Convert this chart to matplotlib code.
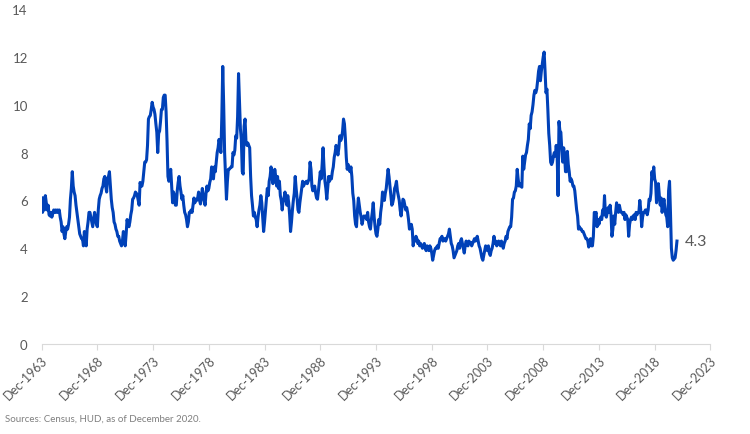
import numpy as np
import matplotlib
matplotlib.use("Agg")
import matplotlib.pyplot as plt

# monthly months' supply of new homes, Dec-1963 .. Dec-2020
supply = [
    6.1,                                                              # 1963 Dec
    5.5, 6.1, 5.6, 6.2, 5.9, 5.6, 5.8, 5.4, 5.35, 5.5, 5.3, 5.45,     # 1964
    5.6, 5.5, 5.6, 5.5, 5.6, 5.5, 5.6, 5.3, 5.1, 4.7, 4.9, 4.6,       # 1965
    4.4, 4.7, 4.9, 4.8, 5.0, 5.3, 6.05, 6.5, 7.2, 6.6, 6.35, 6.2,     # 1966
    5.8, 5.5, 5.2, 4.9, 4.6, 4.5, 4.4, 4.4, 4.1, 4.7, 4.4, 4.1,       # 1967
    4.8, 5.1, 5.5, 5.5, 5.3, 5.1, 4.9, 5.2, 5.5, 5.3, 5.0, 4.9,       # 1968
    5.6, 6.05, 6.2, 6.3, 6.5, 6.6, 6.9, 7.0, 6.6, 6.35, 6.9, 7.0,     # 1969
    7.2, 6.6, 6.05, 5.7, 5.5, 5.1, 5.0, 4.8, 4.7, 4.5, 4.5, 4.3,      # 1970
    4.2, 4.1, 4.3, 4.7, 4.4, 4.1, 4.6, 5.2, 5.0, 4.9, 5.1, 5.4,       # 1971
    5.6, 6.05, 6.1, 6.2, 6.35, 6.3, 6.2, 6.0, 5.8, 6.75, 6.6, 6.6,    # 1972
    6.8, 7.2, 7.6, 7.6, 7.7, 8.3, 9.4, 9.5, 9.55, 9.8, 10.1, 9.9,     # 1973
    9.8, 9.6, 9.2, 8.85, 8.0, 8.8, 8.9, 9.3, 9.8, 9.8, 10.3, 10.4,    # 1974
    10.4, 9.7, 8.5, 7.0, 6.8, 7.1, 7.3, 6.6, 5.9, 6.35, 6.2, 5.8,     # 1975
    5.8, 6.4, 6.75, 7.0, 6.6, 6.35, 6.05, 6.2, 5.8, 5.5, 5.4, 5.2,    # 1976
    4.9, 5.1, 5.5, 5.5, 5.6, 5.5, 5.8, 6.1, 5.9, 6.05, 6.0, 6.1,      # 1977
    6.35, 6.0, 5.85, 6.1, 6.5, 6.2, 6.0, 5.8, 6.3, 6.6, 6.4, 6.5,     # 1978
    6.75, 6.9, 7.4, 7.0, 6.9, 7.4, 7.2, 7.6, 8.0, 8.2, 8.55, 8.3,     # 1979
    8.0, 9.5, 11.6, 10.0, 8.0, 7.0, 6.05, 6.8, 7.3, 7.3, 7.35, 7.4,   # 1980
    7.4, 8.0, 7.9, 8.1, 8.7, 8.6, 9.5, 11.3, 10.2, 9.0, 8.55, 7.2,    # 1981
    7.1, 9.1, 9.4, 8.45, 8.3, 8.4, 8.3, 8.2, 7.0, 6.2, 5.8, 5.35,     # 1982
    5.5, 5.3, 5.2, 4.9, 5.3, 5.6, 5.8, 6.2, 5.9, 5.3, 4.7, 5.1,       # 1983
    5.6, 6.05, 6.5, 6.2, 6.8, 7.0, 7.4, 7.1, 6.7, 6.9, 7.3, 7.0,      # 1984
    6.6, 7.0, 6.5, 6.8, 6.2, 6.0, 5.6, 6.0, 6.1, 6.35, 6.0, 5.8,      # 1985
    6.2, 5.9, 5.4, 4.7, 5.1, 5.6, 6.0, 6.3, 7.0, 6.5, 6.1, 5.6,       # 1986
    5.5, 5.9, 6.2, 6.5, 6.8, 6.6, 6.7, 6.75, 6.8, 6.7, 6.8, 6.9,      # 1987
    7.6, 7.3, 6.6, 6.4, 6.5, 6.6, 6.3, 6.1, 6.05, 6.4, 6.8, 7.2,      # 1988
    6.9, 7.5, 8.2, 7.4, 6.8, 6.5, 6.05, 6.5, 7.0, 6.8, 7.0, 6.9,      # 1989
    7.2, 7.4, 7.8, 8.0, 8.3, 8.1, 7.9, 8.2, 8.7, 8.5, 8.6, 8.9,       # 1990
    9.4, 9.2, 8.6, 7.8, 7.3, 7.5, 7.3, 7.2, 7.4, 7.0, 6.3, 6.0,       # 1991
    5.35, 5.0, 4.9, 5.6, 6.1, 5.8, 5.5, 5.3, 5.0, 5.2, 5.35, 5.3,     # 1992
    5.35, 5.2, 5.5, 5.1, 4.9, 4.8, 5.2, 5.5, 5.9, 5.3, 4.9, 4.6,      # 1993
    4.5, 4.8, 5.2, 5.0, 5.5, 5.8, 6.35, 6.2, 6.0, 6.3, 6.5, 6.9,      # 1994
    7.3, 7.0, 6.6, 6.2, 5.8, 5.9, 6.1, 6.5, 6.6, 6.8, 6.4, 6.2,       # 1995
    6.0, 5.6, 5.35, 5.7, 6.05, 6.0, 5.8, 5.6, 5.7, 5.5, 5.2, 4.8,     # 1996
    4.9, 5.0, 4.8, 4.1, 4.4, 4.3, 4.5, 4.4, 4.2, 4.3, 4.1, 4.2,       # 1997
    4.1, 4.0, 4.1, 4.2, 4.0, 3.9, 4.1, 4.0, 3.9, 4.1, 4.0, 3.8,       # 1998
    3.5, 3.7, 3.9, 4.0, 4.0, 4.1, 4.0, 4.2, 4.4, 4.4, 4.5, 4.3,       # 1999
    4.4, 4.4, 4.3, 4.4, 4.5, 4.6, 4.8, 4.5, 4.2, 4.1, 3.9, 3.6,       # 2000
    3.7, 3.8, 3.9, 4.1, 4.2, 4.0, 4.3, 4.4, 4.2, 4.0, 3.8, 4.1,       # 2001
    4.3, 4.2, 4.1, 4.3, 4.2, 4.25, 4.1, 4.2, 4.3, 4.4, 4.3, 4.4,      # 2002
    4.5, 4.3, 4.1, 4.0, 3.8, 3.6, 3.5, 3.7, 3.9, 4.1, 4.0, 3.9,       # 2003
    4.1, 3.8, 3.7, 3.9, 4.0, 4.2, 4.5, 4.2, 4.3, 4.1, 4.2, 4.3,       # 2004
    4.2, 4.1, 4.3, 4.2, 4.0, 4.2, 4.3, 4.5, 4.4, 4.7, 4.8, 4.9,       # 2005
    4.9, 5.3, 6.05, 6.1, 6.35, 6.4, 6.6, 7.3, 6.9, 6.6, 6.7, 6.6,     # 2006
    6.55, 7.85, 7.3, 7.6, 7.9, 8.0, 8.3, 8.55, 9.2, 9.0, 9.55, 9.7,   # 2007
    10.0, 10.4, 10.6, 10.5, 10.65, 11.0, 11.4, 11.6, 11.0, 11.4, 11.7, 12.0,  # 2008
    12.2, 11.4, 10.5, 10.65, 9.8, 8.8, 8.3, 7.6, 7.5, 7.6, 7.85, 8.0, # 2009
    7.85, 8.3, 7.9, 6.2, 9.3, 8.9, 8.85, 8.1, 7.6, 8.2, 7.9, 7.2,     # 2010
    7.2, 8.05, 7.5, 7.2, 6.8, 6.9, 6.8, 6.6, 6.6, 6.4, 6.0, 5.6,      # 2011
    5.35, 4.8, 4.9, 4.8, 4.8, 4.7, 4.7, 4.6, 4.5, 4.4, 4.4, 4.3,      # 2012
    4.05, 4.3, 4.4, 4.1, 4.1, 4.5, 5.5, 5.4, 5.5, 4.9, 5.2, 5.0,      # 2013
    5.2, 5.3, 5.2, 5.6, 5.4, 6.2, 5.4, 5.3, 5.5, 5.7, 5.5, 5.8,       # 2014
    5.4, 4.5, 4.8, 5.35, 5.0, 5.5, 5.9, 5.6, 5.5, 5.8, 5.6, 5.5,      # 2015
    5.5, 5.4, 5.5, 5.2, 5.4, 5.3, 5.2, 4.5, 5.0, 5.2, 5.3, 5.2,       # 2016
    5.35, 5.4, 5.2, 5.5, 5.4, 5.5, 5.5, 6.0, 5.6, 4.9, 5.3, 5.5,      # 2017
    5.5, 5.6, 5.6, 5.4, 5.6, 6.05, 6.0, 6.3, 7.2, 6.9, 7.4, 6.9,      # 2018
    6.75, 5.9, 6.3, 6.7, 6.2, 5.8, 6.1, 5.5, 5.8, 6.05, 5.7, 5.4,     # 2019
    5.3, 4.9, 6.4, 6.8, 5.5, 4.0, 3.6, 3.5, 3.55, 3.6, 3.9, 4.3,      # 2020
]

tick_years = list(range(1963, 2024, 5))
tick_labels = ["Dec-%d" % y for y in tick_years]
y_ticks = [0, 2, 4, 6, 8, 10, 12, 14]
last_label = "4.3"
source_note = "Sources: Census, HUD, as of December 2020."

plt.rcParams['font.family'] = ['Lato', 'DejaVu Sans']

fig = plt.figure(figsize=(7.5, 4.35), dpi=100)
ax = fig.add_axes([0.0555, 0.207, 0.8917, 0.770])

x = np.arange(len(supply))
ax.plot(x, supply, color="#0041B8", linewidth=2.2, solid_joinstyle="round")

# x axis: one tick every 60 months, starting at Dec-1963
ticks_x = [(y - 1963) * 12 for y in tick_years]
ax.set_xticks(ticks_x)
ax.set_xticklabels(tick_labels, rotation=45, ha="right", va="top",
                   rotation_mode="anchor", fontsize=9, color="#595959")
ax.set_xlim(0, 720)
ax.set_ylim(0, 14)
ax.set_yticks(y_ticks)
ax.set_yticklabels([str(v) for v in y_ticks], fontsize=9.5, color="#595959")

for s in ["top", "right", "left"]:
    ax.spines[s].set_visible(False)
ax.spines["bottom"].set_color("#d9d9d9")
ax.tick_params(axis="x", length=4, color="#d9d9d9", pad=3)
ax.tick_params(axis="y", length=0, pad=10)

ax.annotate(last_label, xy=(x[-1], supply[-1]), xytext=(6, 0),
            textcoords="offset points", va="center", ha="left",
            fontsize=11.5, color="#595959")

fig.text(0.007, 0.03, source_note, fontsize=7, color="#7f7f7f")

fig.savefig("out.png", dpi=100)
